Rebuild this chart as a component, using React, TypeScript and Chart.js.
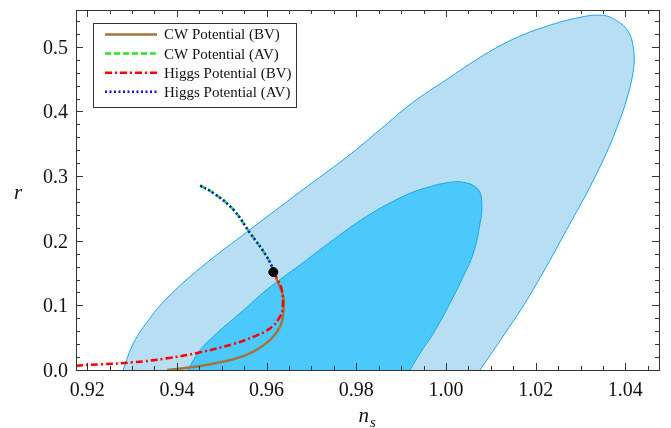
import React, { useEffect, useRef } from "react";
import { Chart, registerables } from "chart.js";
Chart.register(...registerables);

// ---- data ----
const outerNs = [0.928, 0.9303, 0.934, 0.9378, 0.9452, 0.9563, 0.9675, 0.9786, 0.9853, 0.9926, 1.0002, 1.0076, 1.0149, 1.0225, 1.0299, 1.0343, 1.0372, 1.0406, 1.0419, 1.0417, 1.0403, 1.0388, 1.0358, 1.0314, 1.0269, 1.0224, 1.0174, 1.0122, 1.0076];
const outerR = [0.0, 0.0414, 0.0802, 0.1112, 0.1577, 0.2171, 0.276, 0.3333, 0.372, 0.414, 0.4496, 0.4837, 0.5116, 0.532, 0.5457, 0.549, 0.544, 0.524, 0.491, 0.46, 0.419, 0.3876, 0.336, 0.274, 0.217, 0.16, 0.101, 0.047, 0.0];

const innerNs = [0.9424, 0.9452, 0.9489, 0.9541, 0.96, 0.9675, 0.9749, 0.9823, 0.9897, 0.9942, 1.0009, 1.0046, 1.0072, 1.008, 1.0076, 1.0061, 1.0035, 1.0009, 0.9972, 0.9942, 0.992];
const innerR = [0.0, 0.031, 0.0569, 0.0879, 0.124, 0.1628, 0.2016, 0.2377, 0.2662, 0.279, 0.2904, 0.2894, 0.279, 0.2584, 0.2274, 0.1809, 0.1395, 0.1034, 0.0569, 0.0259, 0.0];

const avNs = [0.9452, 0.9481, 0.9526, 0.9563, 0.9593, 0.9612, 0.9615];
const avR = [0.2853, 0.274, 0.248, 0.212, 0.1834, 0.16, 0.1515];

const higgsBvNs = [0.9615, 0.9623, 0.9634, 0.9636, 0.963, 0.9608, 0.9571, 0.9526, 0.9452, 0.9378, 0.9303, 0.9229, 0.9172];
const higgsBvR = [0.1515, 0.1422, 0.124, 0.0981, 0.0826, 0.0646, 0.0516, 0.0403, 0.0274, 0.0181, 0.0119, 0.0088, 0.0066];

const cwBvNs = [0.9615, 0.9623, 0.9637, 0.9637, 0.963, 0.9608, 0.9571, 0.9526, 0.9452, 0.9378];
const cwBvR = [0.1515, 0.1395, 0.1136, 0.0879, 0.0671, 0.0465, 0.0284, 0.0166, 0.0062, 0.0];

const pivotNs = [0.9615];
const pivotR = [0.1515];

const seriesLabels = ["CW Potential (BV)", "CW Potential (AV)", "Higgs Potential (BV)", "Higgs Potential (AV)"];

const xTickValues = [0.92, 0.94, 0.96, 0.98, 1.0, 1.02, 1.04];
const xTickLabels = ["0.92", "0.94", "0.96", "0.98", "1.00", "1.02", "1.04"];
const yTickValues = [0.0, 0.1, 0.2, 0.3, 0.4, 0.5];
const yTickLabels = ["0.0", "0.1", "0.2", "0.3", "0.4", "0.5"];

const X_MIN = 0.9175;
const X_MAX = 1.0475;
const Y_MIN = 0;
const Y_MAX = 0.557;

const zip = (xs: number[], ys: number[]) => xs.map((x, i) => ({ x, y: ys[i] }));

const SERIF = '"Liberation Serif", serif';

const framePlugin = {
  id: "frameTicks",
  afterDatasetsDraw(chart: any) {
    const { ctx, chartArea: a, scales } = chart;
    const xs = scales.x;
    const ys = scales.y;
    ctx.save();
    ctx.strokeStyle = "#333";
    ctx.lineWidth = 1;
    ctx.strokeRect(Math.round(a.left) + 0.5, Math.round(a.top) + 0.5, Math.round(a.right - a.left), Math.round(a.bottom - a.top));
    const xMinor: number[] = [];
    for (let v = 0.92; v < X_MAX; v += 0.005) xMinor.push(v);
    const yMinor: number[] = [];
    for (let v = 0; v < Y_MAX; v += 0.02) yMinor.push(v);
    ctx.beginPath();
    const xt = (v: number, len: number) => {
      const p = Math.round(xs.getPixelForValue(v)) + 0.5;
      ctx.moveTo(p, a.bottom);
      ctx.lineTo(p, a.bottom - len);
      ctx.moveTo(p, a.top);
      ctx.lineTo(p, a.top + len);
    };
    const yt = (v: number, len: number) => {
      const p = Math.round(ys.getPixelForValue(v)) + 0.5;
      ctx.moveTo(a.left, p);
      ctx.lineTo(a.left + len, p);
      ctx.moveTo(a.right, p);
      ctx.lineTo(a.right - len, p);
    };
    xMinor.forEach((v) => xt(v, 4));
    xTickValues.forEach((v) => xt(v, 7));
    yMinor.forEach((v) => yt(v, 4));
    yTickValues.forEach((v) => yt(v, 7));
    ctx.stroke();

    // tick labels
    ctx.fillStyle = "#111";
    ctx.font = `20px ${SERIF}`;
    ctx.textBaseline = "alphabetic";
    ctx.textAlign = "center";
    xTickValues.forEach((v, i) => {
      ctx.fillText(xTickLabels[i], xs.getPixelForValue(v), a.bottom + 26);
    });
    ctx.textAlign = "right";
    yTickValues.forEach((v, i) => {
      ctx.fillText(yTickLabels[i], a.left - 8, ys.getPixelForValue(v) + 7);
    });

    // axis titles
    ctx.textAlign = "left";
    ctx.font = `italic 21px ${SERIF}`;
    const nx = (a.left + a.right) / 2 - 9;
    ctx.fillText("n", nx, 422);
    const nw = ctx.measureText("n").width;
    ctx.font = `italic 15px ${SERIF}`;
    ctx.fillText("s", nx + nw + 1, 427);
    ctx.font = `italic 21px ${SERIF}`;
    ctx.textAlign = "center";
    ctx.fillText("r", 18, 199);

    // legend
    const lx = a.left + 17;
    const ly = a.top + 13;
    const lw = 203;
    const lh = 84;
    ctx.fillStyle = "#fff";
    ctx.fillRect(lx, ly, lw, lh);
    ctx.strokeStyle = "#333";
    ctx.lineWidth = 1;
    ctx.strokeRect(Math.round(lx) + 0.5, Math.round(ly) + 0.5, lw, lh);
    const legendSets = chart.data.datasets.filter((d: any) => seriesLabels.includes(d.label));
    ctx.font = `15px ${SERIF}`;
    ctx.textAlign = "left";
    ctx.textBaseline = "middle";
    legendSets.forEach((d: any, i: number) => {
      const yy = ly + 11.5 + i * 19.1;
      ctx.save();
      ctx.strokeStyle = d.borderColor;
      ctx.lineWidth = d.borderWidth;
      ctx.setLineDash(d.borderDash || []);
      ctx.beginPath();
      ctx.moveTo(lx + 12, yy);
      ctx.lineTo(lx + 64, yy);
      ctx.stroke();
      ctx.restore();
      ctx.fillStyle = "#111";
      ctx.fillText(d.label, lx + 71, yy + 1);
    });
    ctx.restore();
  },
};

export default function App() {
  const ref = useRef<HTMLCanvasElement | null>(null);
  useEffect(() => {
    if (!ref.current) return;
    const chart = new Chart(ref.current, {
      type: "scatter",
      data: {
        datasets: [
          {
            label: "pivot",
            data: zip(pivotNs, pivotR),
            showLine: false,
            pointRadius: 4.5,
            pointBackgroundColor: "#000",
            pointBorderColor: "#000",
            order: 0,
          } as any,
          {
            label: seriesLabels[0],
            data: zip(cwBvNs, cwBvR),
            showLine: true,
            borderColor: "#A5733F",
            borderWidth: 2.5,
            borderDash: [],
            pointRadius: 0,
            tension: 0.4,
            fill: false,
            order: 4,
          },
          {
            label: seriesLabels[1],
            data: zip(avNs, avR),
            showLine: true,
            borderColor: "#22E622",
            borderWidth: 2.5,
            borderDash: [6, 3],
            pointRadius: 0,
            tension: 0.4,
            fill: false,
            order: 3,
          },
          {
            label: seriesLabels[2],
            data: zip(higgsBvNs, higgsBvR),
            showLine: true,
            borderColor: "#FF0000",
            borderWidth: 2.5,
            borderDash: [7, 3, 2, 3],
            pointRadius: 0,
            tension: 0.4,
            fill: false,
            order: 2,
          },
          {
            label: seriesLabels[3],
            data: zip(avNs, avR),
            showLine: true,
            borderColor: "#1010E6",
            borderWidth: 2.5,
            borderDash: [2, 2.5],
            pointRadius: 0,
            tension: 0.4,
            fill: false,
            order: 1,
          },
          {
            label: "68% CL",
            data: zip(innerNs, innerR),
            showLine: true,
            borderColor: "#1AA6EE",
            borderWidth: 1,
            backgroundColor: "#4CC9FB",
            pointRadius: 0,
            tension: 0.4,
            fill: "shape",
            order: 5,
          } as any,
          {
            label: "95% CL",
            data: zip(outerNs, outerR),
            showLine: true,
            borderColor: "#1AA6EE",
            borderWidth: 1,
            backgroundColor: "#B8DEF4",
            pointRadius: 0,
            tension: 0.4,
            fill: "shape",
            order: 6,
          } as any,
        ],
      },
      options: {
        animation: false,
        responsive: false,
        devicePixelRatio: 1,
        layout: { padding: { top: 10, right: 12, left: 0, bottom: 0 } },
        plugins: { legend: { display: false }, tooltip: { enabled: false } },
        scales: {
          x: {
            type: "linear",
            min: X_MIN,
            max: X_MAX,
            afterBuildTicks: (s: any) => {
              s.ticks = xTickValues.map((v) => ({ value: v }));
            },
            afterFit: (s: any) => {
              s.height = 58;
            },
            grid: { display: false, drawTicks: false },
            border: { display: false },
            ticks: { display: false },
          },
          y: {
            type: "linear",
            min: Y_MIN,
            max: Y_MAX,
            afterBuildTicks: (s: any) => {
              s.ticks = yTickValues.map((v) => ({ value: v }));
            },
            afterFit: (s: any) => {
              s.width = 76;
            },
            grid: { display: false, drawTicks: false },
            border: { display: false },
            ticks: { display: false },
          },
        },
      },
      plugins: [framePlugin],
    } as any);
    let alive = true;
    const fonts = (document as any).fonts;
    if (fonts && fonts.load) {
      Promise.all([
        fonts.load(`20px "Liberation Serif"`),
        fonts.load(`italic 20px "Liberation Serif"`),
      ])
        .catch(() => null)
        .then(() => {
          if (alive) chart.update("none");
        });
    }
    return () => {
      alive = false;
      chart.destroy();
    };
  }, []);
  return (
    <div style={{ position: "fixed", left: 0, top: 0, width: 671, height: 428, background: "#fff" }}>
      <canvas ref={ref} width={671} height={428} style={{ display: "block", width: 671, height: 428 }} />
    </div>
  );
}
